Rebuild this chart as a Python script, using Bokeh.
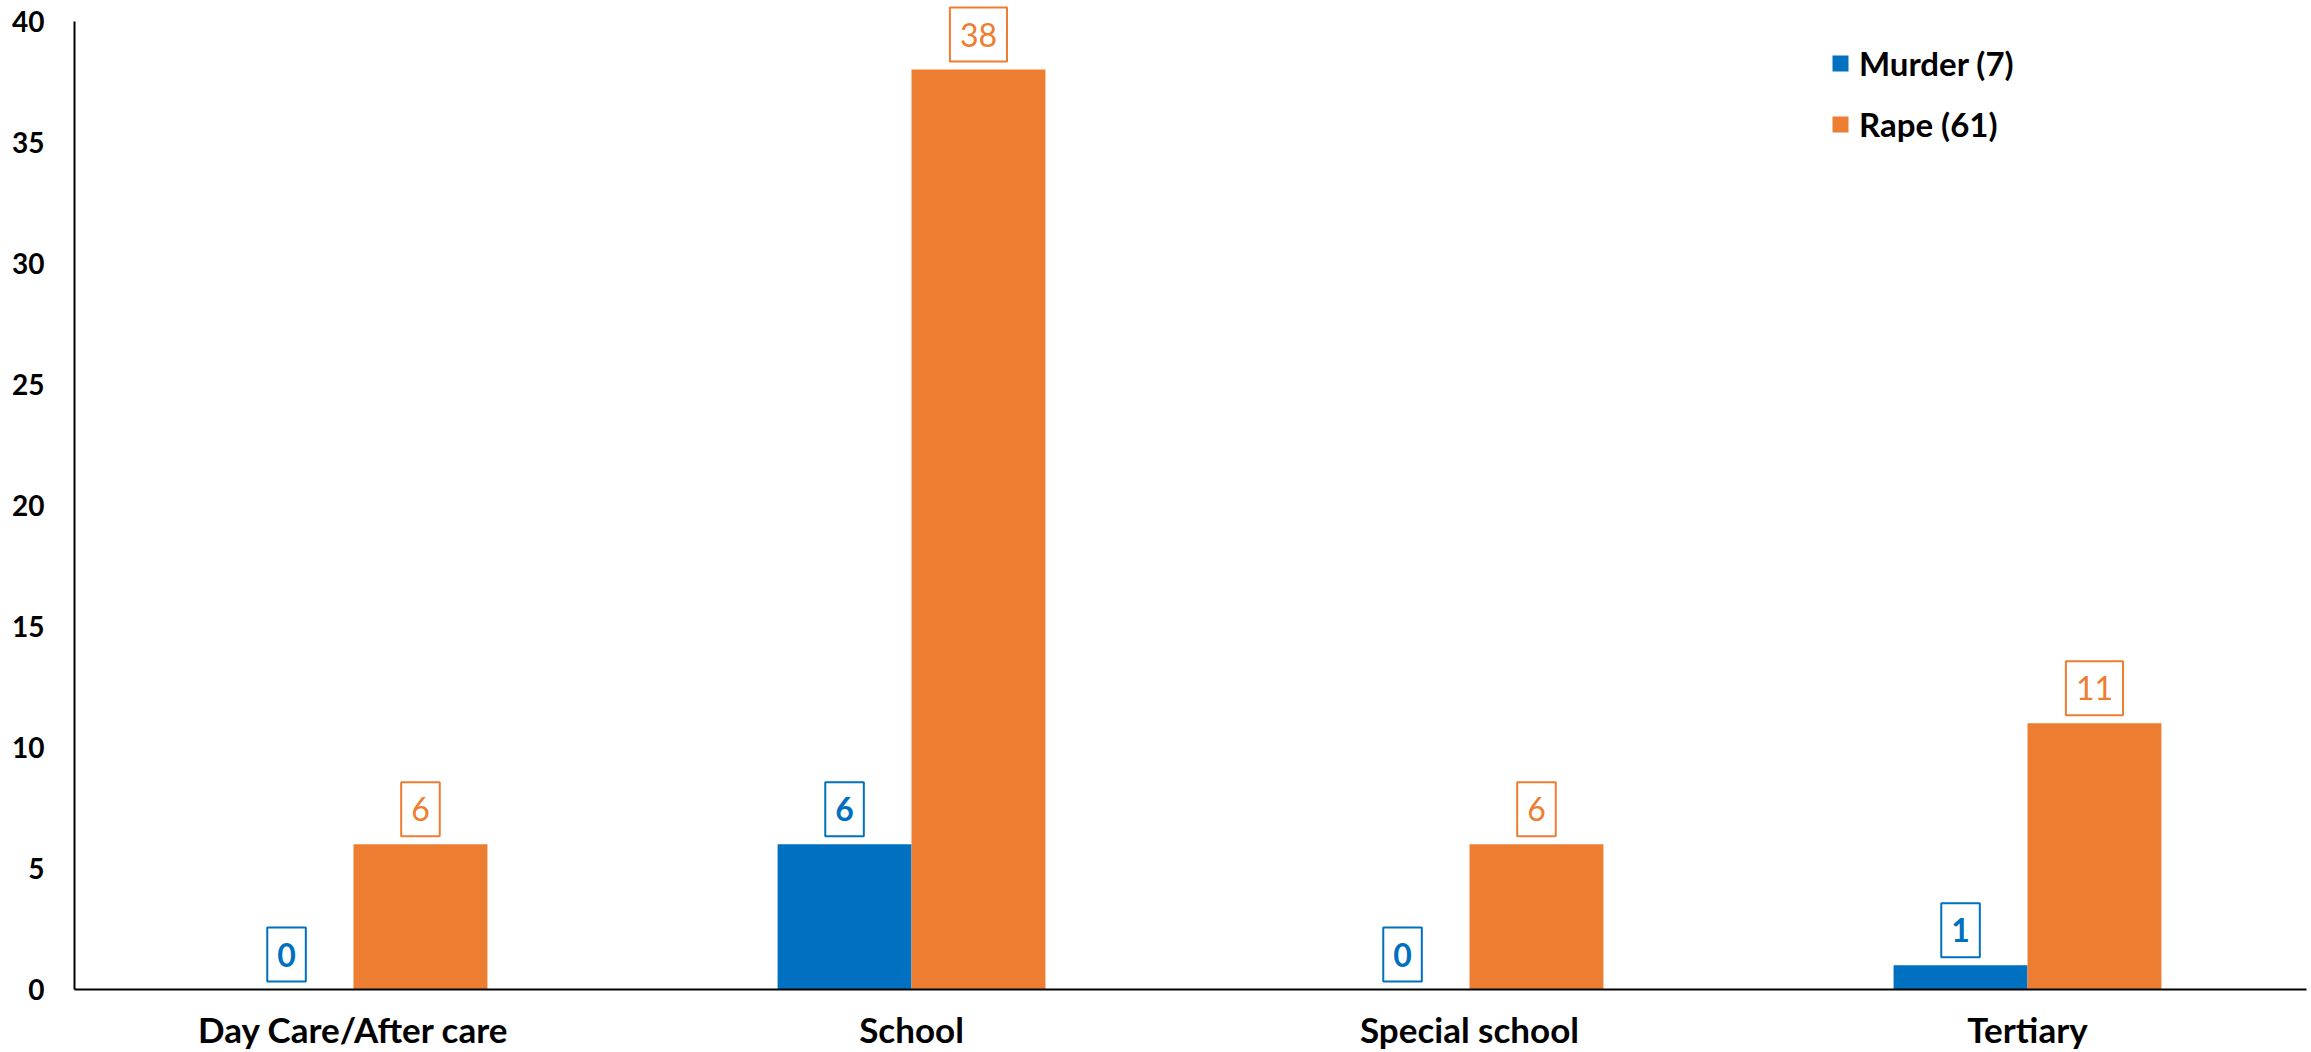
from bokeh.plotting import figure
from bokeh.models import (ColumnDataSource, FactorRange, FixedTicker,
                          Legend, LegendItem, Range1d)
from bokeh.core.properties import value
from bokeh.transform import dodge
from bokeh.embed import file_html
from bokeh.resources import INLINE

categories = ["Day Care/After care", "School", "Special school", "Tertiary"]
murder = [0, 6, 0, 1]
rape = [6, 38, 6, 11]
series_names = ["Murder (7)", "Rape (61)"]
y_ticks = [0, 5, 10, 15, 20, 25, 30, 35, 40]

BLUE = "#0070C0"
ORANGE = "#ED7D31"
FONT = "Lato"

src = ColumnDataSource(dict(cat=categories, murder=murder, rape=rape,
                            murder_txt=[str(v) for v in murder],
                            rape_txt=[str(v) for v in rape]))

p = figure(x_range=FactorRange(*categories, range_padding=0),
           y_range=Range1d(0, 40.85),
           width=2311, height=1052, output_backend="svg", toolbar_location=None,
           min_border_left=74, min_border_top=0, min_border_right=5,
           min_border_bottom=60)
p.outline_line_color = None
p.xgrid.grid_line_color = None
p.ygrid.grid_line_color = None

bw = 0.24
r1 = p.vbar(x=dodge("cat", -bw / 2, range=p.x_range), top="murder", width=bw,
            source=src, fill_color=BLUE, line_color=None)
r2 = p.vbar(x=dodge("cat", bw / 2, range=p.x_range), top="rape", width=bw,
            source=src, fill_color=ORANGE, line_color=None)

pad = dict(left=10, right=10, top=15, bottom=15)
p.text(x=dodge("cat", -bw / 2, range=p.x_range), y="murder", text="murder_txt",
       source=src, text_align="center", text_baseline="bottom", y_offset=-8,
       anchor="bottom_center",
       text_font=value(FONT), text_font_size="32px", text_font_style="bold",
       text_color=BLUE, border_line_color=BLUE, border_line_width=2,
       background_fill_color="white", padding=pad)
p.text(x=dodge("cat", bw / 2, range=p.x_range), y="rape", text="rape_txt",
       source=src, text_align="center", text_baseline="bottom", y_offset=-8,
       anchor="bottom_center",
       text_font=value(FONT), text_font_size="32px", text_font_style="normal",
       text_color=ORANGE, border_line_color=ORANGE, border_line_width=2,
       background_fill_color="white", padding=pad)

p.yaxis.ticker = FixedTicker(ticks=y_ticks)
p.yaxis.bounds = (0, 40)
for ax in (p.xaxis[0], p.yaxis[0]):
    ax.axis_line_color = "black"
    ax.axis_line_width = 2
    ax.major_tick_line_color = None
    ax.minor_tick_line_color = None
    ax.major_tick_out = 0
    ax.major_tick_in = 0
    ax.minor_tick_out = 0
    ax.minor_tick_in = 0
    ax.major_label_text_font = FONT
    ax.major_label_text_font_style = "bold"
    ax.major_label_text_color = "black"
p.yaxis.major_label_text_font_size = "28px"
p.yaxis.major_label_standoff = 30
p.xaxis.major_label_text_font_size = "35px"
p.xaxis.major_label_standoff = 18

legend = Legend(items=[LegendItem(label=series_names[0], renderers=[r1]),
                       LegendItem(label=series_names[1], renderers=[r2])],
                location=(1756, 845), orientation="vertical")
legend.padding = 0
legend.margin = 0
legend.spacing = 21
legend.border_line_color = None
legend.background_fill_alpha = 0
legend.glyph_width = 20
legend.glyph_height = 20
legend.label_height = 40
legend.label_standoff = 9
legend.label_text_font = FONT
legend.label_text_font_style = "bold"
legend.label_text_font_size = "33px"
legend.label_text_color = "black"
p.add_layout(legend, "center")

open("out.html", "w").write(file_html(p, INLINE))
